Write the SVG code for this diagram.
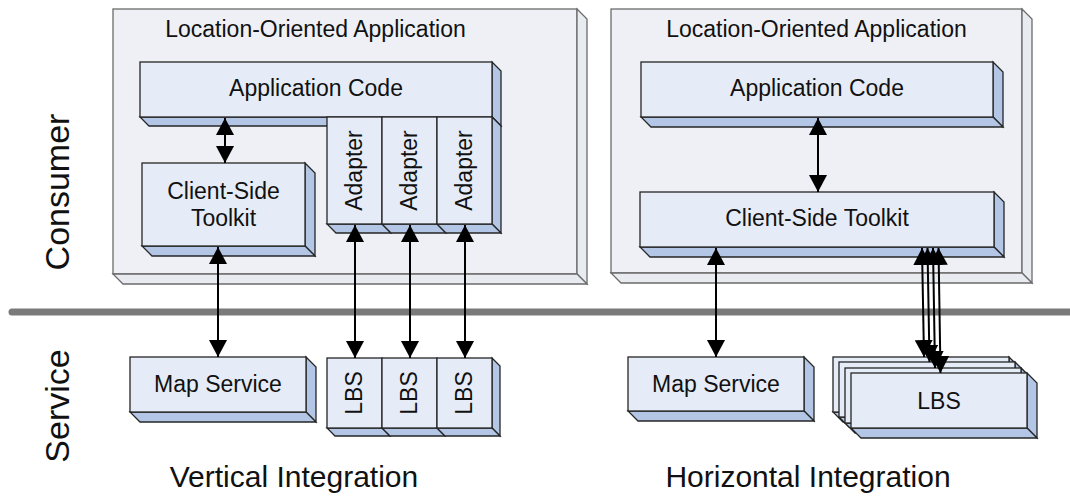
<svg xmlns="http://www.w3.org/2000/svg" width="1070" height="500" viewBox="0 0 1070 500">
<style>
.outer{fill:#eef0f5;stroke:#6b6b6b;stroke-width:1.3}
.outerd{fill:#e8ebf0;stroke:#6b6b6b;stroke-width:1.3}
.front{fill:#e6ecf7;stroke:#262626;stroke-width:1.3}
.side{fill:#b3c6e6;stroke:#262626;stroke-width:1.3}
.lbl{font-family:"Liberation Sans",Arial,sans-serif;font-size:23px;fill:#111;text-anchor:middle}
.big{font-family:"Liberation Sans",Arial,sans-serif;font-size:34px;fill:#111;text-anchor:middle}
.cap{font-family:"Liberation Sans",Arial,sans-serif;font-size:30px;fill:#111;text-anchor:middle}
.con{stroke:#000;stroke-width:2;fill:none;marker-start:url(#ah);marker-end:url(#ah)}
.div{stroke:#7a7a7a;stroke-width:7;stroke-linecap:round}
</style>
<defs>
<marker id="ah" viewBox="0 0 17 18" refX="17" refY="9" markerWidth="17" markerHeight="18" markerUnits="userSpaceOnUse" orient="auto-start-reverse"><path d="M0,0 L17,9 L0,18 z" fill="#000"/></marker>
</defs>

<line class="div" x1="12" y1="312" x2="1070" y2="312"/>

<g id="label-consumer"><text class="big" transform="translate(57,192) rotate(-90)" dy="12">Consumer</text></g>
<g id="label-service"><text class="big" transform="translate(57,406) rotate(-90)" dy="12">Service</text></g>

<g id="left-app">
<rect class="outer" x="113" y="9" width="464" height="265"/>
<polygon class="outerd" points="577,9 587,19 587,284 577,274"/>
<polygon class="outerd" points="113,274 577,274 587,284 123,284"/>
<text class="lbl" x="315.5" y="37">Location-Oriented Application</text>
</g>

<g id="left-appcode">
<polygon class="side" points="492,62 501,71 501,126 492,117"/>
<polygon class="side" points="140,117 492,117 501,126 149,126"/>
<rect class="front" x="140" y="62" width="352" height="55"/>
<text class="lbl" x="316" y="96">Application Code</text>
</g>

<g id="left-adapter1">
<polygon class="side" points="327,224 382,224 391,233 336,233"/>
<rect class="front" x="327" y="117" width="55" height="107"/>
<text class="lbl" transform="translate(354.5,170.5) rotate(-90)" dy="7">Adapter</text>
</g>
<g id="left-adapter2">
<polygon class="side" points="382,224 437,224 446,233 391,233"/>
<rect class="front" x="382" y="117" width="55" height="107"/>
<text class="lbl" transform="translate(409.5,170.5) rotate(-90)" dy="7">Adapter</text>
</g>
<g id="left-adapter3">
<polygon class="side" points="492,117 501,126 501,233 492,224"/>
<polygon class="side" points="437,224 492,224 501,233 446,233"/>
<rect class="front" x="437" y="117" width="55" height="107"/>
<text class="lbl" transform="translate(464.5,170.5) rotate(-90)" dy="7">Adapter</text>
</g>

<g id="left-toolkit">
<polygon class="side" points="305,163 315,173 315,256 305,246"/>
<polygon class="side" points="142,246 305,246 315,256 152,256"/>
<rect class="front" x="142" y="163" width="163" height="83"/>
<text class="lbl" x="223.5" y="199">Client-Side</text>
<text class="lbl" x="223.5" y="226">Toolkit</text>
</g>

<g id="left-map">
<polygon class="side" points="306,357 316,367 316,422 306,412"/>
<polygon class="side" points="130,412 306,412 316,422 140,422"/>
<rect class="front" x="130" y="357" width="176" height="55"/>
<text class="lbl" x="218" y="392">Map Service</text>
</g>

<g id="left-lbs1">
<polygon class="side" points="327,428 382,428 390,436 335,436"/>
<rect class="front" x="327" y="358" width="55" height="70"/>
<text class="lbl" transform="translate(354.5,393) rotate(-90)" dy="7">LBS</text>
</g>
<g id="left-lbs2">
<polygon class="side" points="382,428 437,428 445,436 390,436"/>
<rect class="front" x="382" y="358" width="55" height="70"/>
<text class="lbl" transform="translate(409.5,393) rotate(-90)" dy="7">LBS</text>
</g>
<g id="left-lbs3">
<polygon class="side" points="492,358 500,366 500,436 492,428"/>
<polygon class="side" points="437,428 492,428 500,436 445,436"/>
<rect class="front" x="437" y="358" width="55" height="70"/>
<text class="lbl" transform="translate(464.5,393) rotate(-90)" dy="7">LBS</text>
</g>

<g id="right-app">
<rect class="outer" x="611" y="9" width="411" height="264"/>
<polygon class="outerd" points="1022,9 1032,19 1032,283 1022,273"/>
<polygon class="outerd" points="611,273 1022,273 1032,283 621,283"/>
<text class="lbl" x="816.5" y="37">Location-Oriented Application</text>
</g>

<g id="right-appcode">
<polygon class="side" points="993,62 1003,72 1003,127 993,117"/>
<polygon class="side" points="641,117 993,117 1003,127 651,127"/>
<rect class="front" x="641" y="62" width="352" height="55"/>
<text class="lbl" x="817" y="96">Application Code</text>
</g>

<g id="right-toolkit">
<polygon class="side" points="994,192 1004,202 1004,257 994,247"/>
<polygon class="side" points="640,247 994,247 1004,257 650,257"/>
<rect class="front" x="640" y="192" width="354" height="55"/>
<text class="lbl" x="817" y="226">Client-Side Toolkit</text>
</g>

<g id="right-map">
<polygon class="side" points="804,357 814,367 814,421 804,411"/>
<polygon class="side" points="628,411 804,411 814,421 638,421"/>
<rect class="front" x="628" y="357" width="176" height="54"/>
<text class="lbl" x="716" y="392">Map Service</text>
</g>

<g id="right-lbs">
<polygon class="side" points="1009,357 1019,367 1019,422 1009,412"/>
<polygon class="side" points="833,412 1009,412 1019,422 843,422"/>
<rect class="front" x="833" y="357" width="176" height="55"/>
<polygon class="side" points="1015,362 1025,372 1025,427 1015,417"/>
<polygon class="side" points="839,417 1015,417 1025,427 849,427"/>
<rect class="front" x="839" y="362" width="176" height="55"/>
<polygon class="side" points="1021,368 1031,378 1031,433 1021,423"/>
<polygon class="side" points="845,423 1021,423 1031,433 855,433"/>
<rect class="front" x="845" y="368" width="176" height="55"/>
<polygon class="side" points="1027,373 1037,383 1037,438 1027,428"/>
<polygon class="side" points="851,428 1027,428 1037,438 861,438"/>
<rect class="front" x="851" y="373" width="176" height="55"/>
<text class="lbl" x="939" y="409">LBS</text>
</g>

<g id="connectors">
<line class="con" x1="225" y1="118" x2="225" y2="163"/>
<line class="con" x1="218" y1="247" x2="218" y2="357"/>
<line class="con" x1="355" y1="225" x2="355" y2="358"/>
<line class="con" x1="410" y1="225" x2="410" y2="358"/>
<line class="con" x1="465" y1="225" x2="465" y2="358"/>
<line class="con" x1="818" y1="118" x2="818" y2="192"/>
<line class="con" x1="716" y1="248" x2="716" y2="357"/>
<line class="con" x1="922" y1="248" x2="924" y2="357"/>
<line class="con" x1="927.5" y1="248" x2="929.5" y2="362"/>
<line class="con" x1="933" y1="248" x2="935" y2="368"/>
<line class="con" x1="938.5" y1="248" x2="940.5" y2="373"/>
</g>

<g id="captions">
<text class="cap" x="294" y="487">Vertical Integration</text>
<text class="cap" x="808" y="487">Horizontal Integration</text>
</g>
</svg>
